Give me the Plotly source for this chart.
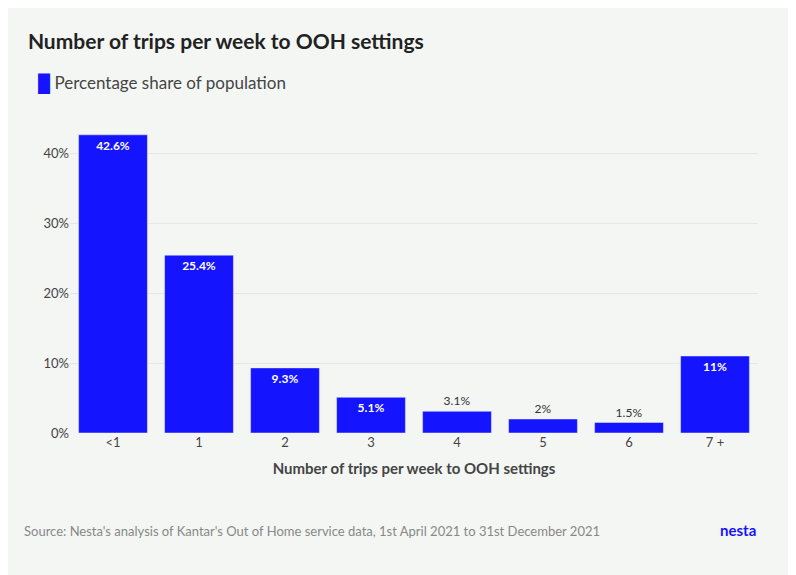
import plotly.graph_objects as go

categories = ["<1", "1", "2", "3", "4", "5", "6", "7 +"]
share = [42.6, 25.4, 9.3, 5.1, 3.1, 2, 1.5, 11]
labels = ["42.6%", "25.4%", "9.3%", "5.1%", "3.1%", "2%", "1.5%", "11%"]
yticks = [0, 10, 20, 30, 40]

bg = "#f4f6f4"
blue = "#1414ff"

inside = [v >= 5 for v in share]
fig = go.Figure()
fig.add_trace(go.Bar(
    x=categories, y=share, name="Percentage share of population",
    marker_color=blue,
    text=["<b>%s</b>" % t if i else t for t, i in zip(labels, inside)],
    textposition=["inside" if i else "outside" for i in inside],
    insidetextanchor="end",
    textfont=dict(family="Lato", size=12,
                  color=["white" if i else "#333" for i in inside]),
    cliponaxis=False, showlegend=False,
))

fig.update_layout(
    width=796, height=575,
    paper_bgcolor=bg, plot_bgcolor=bg,
    font=dict(family="Lato", color="#444"),
    margin=dict(l=62, r=46, t=117, b=150),
    bargap=0.2,
    title=dict(text="<b>Number of trips per week to OOH settings</b>",
               x=0.025, xanchor="left", y=0.955, yanchor="top",
               font=dict(size=21, color="#222")),
    xaxis=dict(title=dict(text="<b>Number of trips per week to OOH settings</b>",
                          font=dict(size=15, color="#444"), standoff=14),
               tickfont=dict(size=13, color="#444"), showline=False),
    yaxis=dict(range=[0, 44], tickvals=yticks,
               ticktext=["%d%%" % v for v in yticks],
               gridcolor="#e6e8e6", zeroline=False,
               tickfont=dict(size=13, color="#444")),
    annotations=[
        dict(text="<span style='color:%s'>█</span> Percentage share of population" % blue,
             xref="paper", yref="paper", x=-0.05, y=1.18, xanchor="left",
             showarrow=False, font=dict(size=17, color="#444")),
        dict(text="Source: Nesta's analysis of Kantar's Out of Home service data, 1st April 2021 to 31st December 2021",
             xref="paper", yref="paper", x=-0.07, y=-0.35, xanchor="left",
             showarrow=False, font=dict(size=13, color="#888")),
        dict(text="<b>nesta</b>", xref="paper", yref="paper", x=1.0, y=-0.35,
             xanchor="right", showarrow=False, font=dict(size=15, color="#1414ff")),
    ],
)

fig.write_html("out.html")
